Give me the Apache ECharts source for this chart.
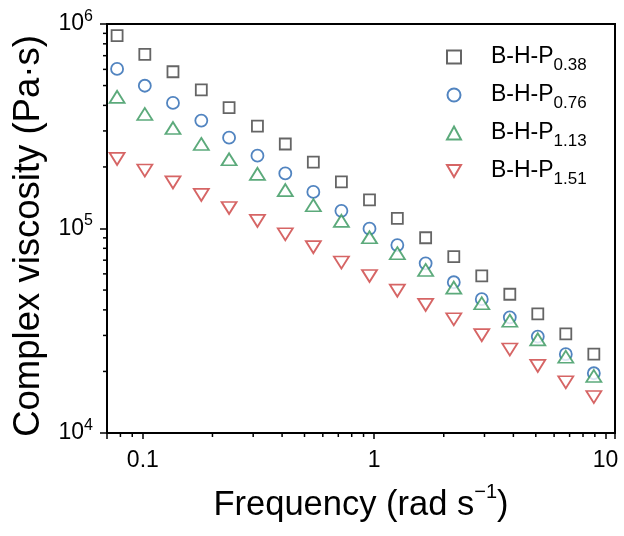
<!DOCTYPE html>
<html>
<head>
<meta charset="utf-8">
<script src="https://cdn.jsdelivr.net/npm/echarts@6/dist/echarts.min.js"></script>
<style>
  html, body { margin: 0; padding: 0; background: #fff; }
  #chart { width: 624px; height: 536px; }
</style>
</head>
<body>
<div id="chart"></div>
<script>
// frequency (rad/s)
var freq = [0.0774, 0.102, 0.135, 0.179, 0.236, 0.313, 0.413, 0.546, 0.722,
            0.955, 1.26, 1.67, 2.21, 2.92, 3.86, 5.10, 6.74, 8.91];

// complex viscosity (Pa·s)
var visc_038 = [877000, 711000, 584000, 476000, 390000, 317000, 259000, 211000, 169000,
                138000, 112000, 90100, 72800, 58600, 47700, 38200, 30500, 24300];
var visc_076 = [603000, 499000, 411000, 337000, 278000, 227000, 186000, 151000, 122000,
                99800, 83000, 67600, 54600, 45100, 36800, 29600, 24300, 19600];
var visc_113 = [440000, 363000, 310000, 259000, 218000, 185000, 154000, 130000, 109000,
                90600, 75700, 62700, 51400, 43100, 35400, 28700, 23600, 19000];
var visc_151 = [219000, 192000, 168000, 146000, 126000, 109000, 93700, 81100, 68200,
                58600, 49700, 42300, 36000, 30100, 25600, 21300, 17700, 15000];

var names = ['B-H-P0.38', 'B-H-P0.76', 'B-H-P1.13', 'B-H-P1.51'];
var subs = ['0.38', '0.76', '1.13', '1.51'];
var colors = ['#3f3f3f', '#2565b0', '#33955a', '#cc3f3f'];

var xMin = 0.07, xMax = 11;
var yMin = 1e4, yMax = 1e6;

var FONT = 'Liberation Sans';
var DOWN_TRI = 'path://M0,0 L10,0 L5,8.66 Z';

function pairs(vals){
    var out = [];
    for(var i=0;i<freq.length;i++){
        out.push([freq[i], vals[i]]);
    }
    return out;
}

function isPow10(v){
    var l = Math.log10(v);
    return Math.abs(l - Math.round(l)) < 1e-6;
}

function mark(c){
    return { color: '#fff', borderColor: c, borderWidth: 1.8 };
}

var chart = echarts.init(document.getElementById('chart'));

var option = {
    backgroundColor: '#fff',
    animation: false,
    grid: {
        left: 107, right: 9, top: 24, bottom: 103,
        show: true, borderColor: '#000', borderWidth: 2
    },
    legend: {
        orient: 'vertical',
        left: 446,
        top: 40,
        padding: 0,
        itemWidth: 14,
        itemHeight: 13,
        itemGap: 4,
        data: names,
        formatter: function(name){
            return '{gap|}B-H-P{sub|' + subs[names.indexOf(name)] + '}';
        },
        textStyle: {
            fontFamily: FONT,
            fontSize: 23,
            color: '#000',
            lineHeight: 24,
            rich: {
                gap: { width: 25 },
                sub: { fontFamily: FONT, fontSize: 17, color: '#000', lineHeight: 17, padding: [17, 0, 0, 0] }
            }
        }
    },
    xAxis: {
        type: 'log',
        logBase: 10,
        min: xMin,
        max: xMax,
        name: 'Frequency (rad s{sup|−1})',
        nameLocation: 'middle',
        nameGap: 55,
        nameTextStyle: {
            fontFamily: FONT, fontSize: 34.5, color: '#000', lineHeight: 34,
            rich: {
                sup: { fontFamily: FONT, fontSize: 20, color: '#000', lineHeight: 20, padding: [0, 0, 26, 0] }
            }
        },
        axisLine: { lineStyle: { color: '#000', width: 2 } },
        axisTick: { show: true, length: 6, lineStyle: { color: '#000', width: 1.5 } },
        splitLine: { show: false },
        axisLabel: {
            fontFamily: FONT, fontSize: 23, color: '#000', margin: 16,
            formatter: function(v){
                if(!isPow10(v)) return '';
                var n = Math.round(Math.log10(v));
                return n < 0 ? (Math.pow(10, n)).toFixed(-n) : String(Math.pow(10, n));
            }
        }
    },
    yAxis: {
        type: 'log',
        logBase: 10,
        min: yMin,
        max: yMax,
        name: 'Complex viscosity (Pa·s)',
        nameLocation: 'middle',
        nameGap: 51,
        nameTextStyle: { fontFamily: FONT, fontSize: 36.5, color: '#000', padding: [0, 15, 0, 0] },
        axisLine: { lineStyle: { color: '#000', width: 2 } },
        axisTick: { show: true, length: 7, lineStyle: { color: '#000', width: 1.5 } },
        splitLine: { show: false },
        axisLabel: {
            fontFamily: FONT, fontSize: 23, color: '#000', margin: 14, lineHeight: 23,
            formatter: function(v){
                if(!isPow10(v)) return '';
                return '10{sup|' + Math.round(Math.log10(v)) + '}';
            },
            rich: {
                sup: { fontFamily: FONT, fontSize: 16, color: '#000', lineHeight: 16, padding: [0, 0, 15, 0] }
            }
        }
    },
    series: [
        {
            name: names[0], type: 'scatter', data: pairs(visc_038),
            symbol: 'rect', symbolSize: 11,
            itemStyle: mark(colors[0])
        },
        {
            name: names[1], type: 'scatter', data: pairs(visc_076),
            symbol: 'circle', symbolSize: 12,
            itemStyle: mark(colors[1])
        },
        {
            name: names[2], type: 'scatter', data: pairs(visc_113),
            symbol: 'triangle', symbolSize: [15, 12],
            itemStyle: mark(colors[2])
        },
        {
            name: names[3], type: 'scatter', data: pairs(visc_151),
            symbol: DOWN_TRI, symbolSize: [15, 12],
            itemStyle: mark(colors[3])
        }
    ]
};

chart.setOption(option);

// minor ticks at 2..9 x 10^n, placed through the axes' own scales
function minorTicks(){
    var els = [];
    var base = chart.convertToPixel({gridIndex: 0}, [xMin, yMin]);
    for(var n=-2;n<=1;n++){
        for(var k=2;k<=9;k++){
            var v = k*Math.pow(10, n);
            if(v <= xMin || v >= xMax) continue;
            var px = chart.convertToPixel({gridIndex: 0}, [v, yMin])[0];
            els.push({ type: 'line', silent: true,
                shape: { x1: px, y1: base[1], x2: px, y2: base[1] + 4 },
                style: { stroke: '#000', lineWidth: 1.5 } });
        }
    }
    for(var m=4;m<=5;m++){
        for(var j=2;j<=9;j++){
            var w = j*Math.pow(10, m);
            var py = chart.convertToPixel({gridIndex: 0}, [xMin, w])[1];
            els.push({ type: 'line', silent: true,
                shape: { x1: base[0], y1: py, x2: base[0] - 4, y2: py },
                style: { stroke: '#000', lineWidth: 1.5 } });
        }
    }
    chart.setOption({ graphic: els });
}
minorTicks();
</script>
</body>
</html>
